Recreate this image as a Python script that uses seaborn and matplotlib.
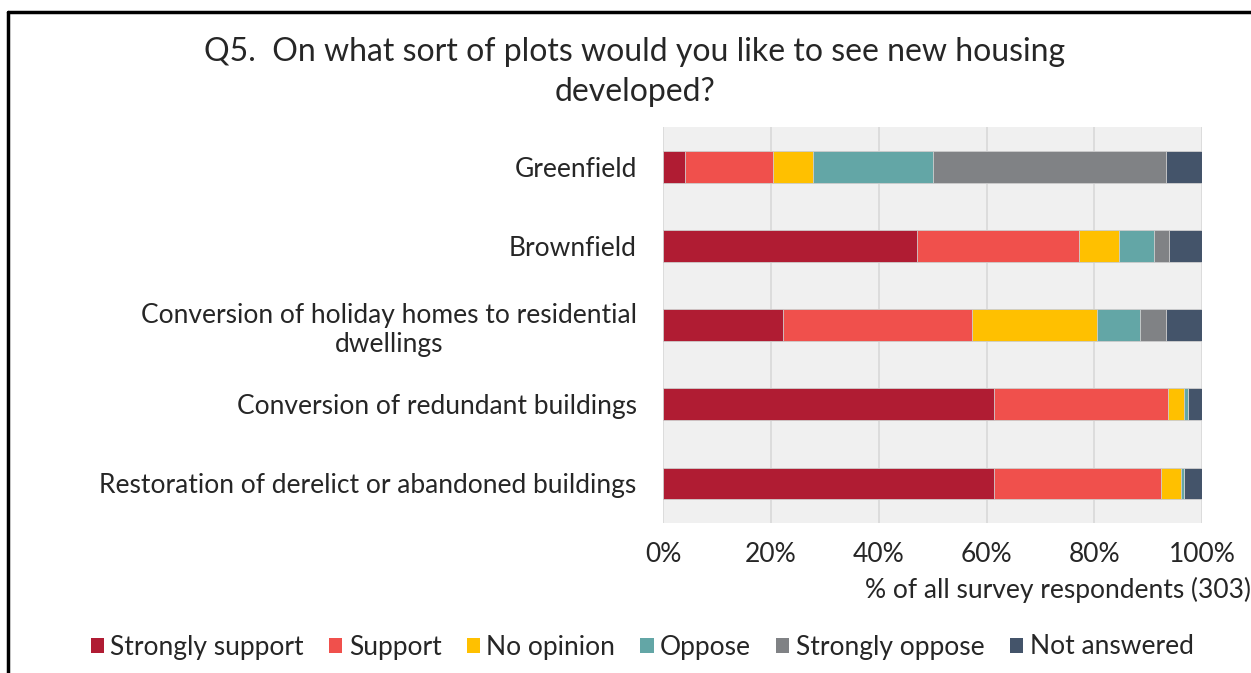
import pandas as pd
import matplotlib.pyplot as plt
import seaborn as sns
from matplotlib.lines import Line2D
from matplotlib.patches import Patch

# Survey data (% of respondents)
categories = ['Greenfield',
              'Brownfield',
              'Conversion of holiday homes to residential\ndwellings',
              'Conversion of redundant buildings',
              'Restoration of derelict or abandoned buildings']
responses = ['Strongly support', 'Support', 'No opinion', 'Oppose', 'Strongly oppose', 'Not answered']
strongly_support = [4.0, 47.1, 22.2, 61.3, 61.3]
support = [16.4, 30.1, 35.1, 32.4, 31.1]
no_opinion = [7.4, 7.4, 23.1, 3.0, 3.6]
oppose = [22.2, 6.4, 8.0, 0.7, 0.7]
strongly_oppose = [43.3, 2.9, 4.9, 0.0, 0.0]
not_answered = [6.7, 6.1, 6.7, 2.6, 3.3]
colors = ['#B01C33', '#F0504C', '#FFC000', '#63A6A6', '#808285', '#44546A']

df = pd.DataFrame({'category': categories,
                   'Strongly support': strongly_support,
                   'Support': support,
                   'No opinion': no_opinion,
                   'Oppose': oppose,
                   'Strongly oppose': strongly_oppose,
                   'Not answered': not_answered})
cum = df[responses].cumsum(axis=1)
cum['category'] = df['category']

sns.set_style('white')
plt.rcParams['font.family'] = ['Lato', 'DejaVu Sans']

fig = plt.figure(figsize=(12.51, 6.73), dpi=100)
ax = fig.add_axes([0.530, 0.223, 0.431, 0.588])
ax.set_facecolor('#F0F0F0')

# Stacked bars: draw cumulative totals from the last response backwards
for resp, col in reversed(list(zip(responses, colors))):
    sns.barplot(data=cum, x=resp, y='category', orient='h', color=col,
                width=0.4, saturation=1, edgecolor='#D0D0D0', linewidth=0.6, ax=ax)

ax.set_xlim(0, 100)
ax.set_ylim(4.5, -0.5)
ax.set_xticks([0, 20, 40, 60, 80, 100])
ax.set_xticklabels(['0%', '20%', '40%', '60%', '80%', '100%'])
ax.xaxis.grid(True, color='#D9D9D9', linewidth=1.2)
ax.set_axisbelow(True)
for s in ax.spines.values():
    s.set_visible(False)
ax.tick_params(axis='both', length=0, labelsize=19, colors='#262626')
ax.tick_params(axis='y', pad=19)
ax.tick_params(axis='x', pad=14)
for lab in ax.get_yticklabels():
    lab.set_multialignment('center')
ax.set_xlabel('')
ax.set_ylabel('')

fig.text(635 / 1251, 1 - 72 / 673, 'Q5.  On what sort of plots would you like to see new housing\ndeveloped?',
         ha='center', va='center', fontsize=23, color='#262626', linespacing=1.45)
fig.text(865 / 1251, 1 - 590 / 673, '% of all survey respondents (303)',
         ha='left', va='center', fontsize=19, color='#262626')

handles = [Patch(facecolor=c, edgecolor='none') for c in colors]
fig.legend(handles, responses, loc='center', bbox_to_anchor=(642 / 1251, 1 - 647 / 673),
           ncol=6, frameon=False, fontsize=19, handlelength=0.5, handleheight=0.5,
           handletextpad=0.25, columnspacing=0.95, labelcolor='#262626')

# Frame lines of the original slide
fig.add_artist(Line2D([8 / 1251, 1], [1 - 12 / 673, 1 - 12 / 673], color='black', linewidth=2.5))
fig.add_artist(Line2D([8 / 1251, 8 / 1251], [0, 1 - 12 / 673], color='black', linewidth=2.5))

plt.savefig('out.png', dpi=100)
